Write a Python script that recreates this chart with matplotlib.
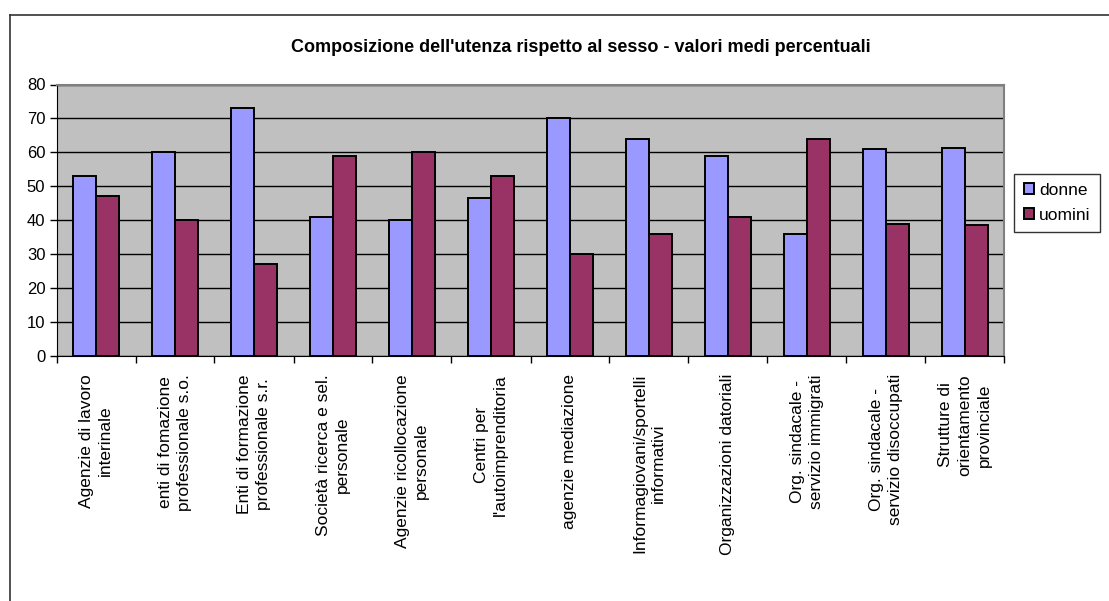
import matplotlib.pyplot as plt
import numpy as np

plt.rcParams['font.family'] = ['Liberation Sans', 'DejaVu Sans']

# data
categories = [
    "Agenzie di lavoro\ninterinale",
    "enti di fomazione\nprofessionale s.o.",
    "Enti di formazione\nprofessionale s.r.",
    "Società ricerca e sel.\npersonale",
    "Agenzie ricollocazione\npersonale",
    "Centri per\nl'autoimprenditoria",
    "agenzie mediazione",
    "Informagiovani/sportelli\ninformativi",
    "Organizzazioni datoriali",
    "Org. sindacale -\nservizio immigrati",
    "Org. sindacale -\nservizio disoccupati",
    "Strutture di\norientamento\nprovinciale",
]
donne = [53, 60, 73, 41, 40, 46.5, 70, 64, 59, 36, 61, 61.3]
uomini = [47, 40, 27, 59, 60, 53, 30, 36, 41, 64, 39, 38.7]
yticks = [0, 10, 20, 30, 40, 50, 60, 70, 80]

fig = plt.figure(figsize=(11.09, 6.01), dpi=100)

# chart-area border (only top and left visible in the original)
fig.add_artist(plt.Line2D([9.5 / 1109, 9.5 / 1109], [0, 1 - 14.5 / 601],
                          color='#333333', lw=1.2, transform=fig.transFigure))
fig.add_artist(plt.Line2D([9.5 / 1109, 1], [1 - 14.5 / 601, 1 - 14.5 / 601],
                          color='#333333', lw=1.2, transform=fig.transFigure))

ax = fig.add_axes([56.5 / 1109, 245 / 601, 948 / 1109, 271.5 / 601])
ax.set_facecolor('#C0C0C0')

x = np.arange(len(categories))
w = 1 / 3.5
ax.bar(x - w / 2, donne, w, color='#9999FF', edgecolor='black', linewidth=1.4,
       label='donne', zorder=3)
ax.bar(x + w / 2, uomini, w, color='#993366', edgecolor='black', linewidth=1.4,
       label='uomini', zorder=3)

ax.set_xlim(-0.5, len(categories) - 0.5)
ax.set_ylim(0, 80)
ax.set_yticks(yticks)
ax.tick_params(axis='y', labelsize=12, length=5, width=1, pad=3)
ax.yaxis.grid(True, color='black', lw=1, zorder=1)
ax.set_axisbelow(True)

# boundaries as major ticks, labels on minor ticks at the centres
ax.set_xticks(np.arange(len(categories) + 1) - 0.5)
ax.set_xticklabels([])
ax.tick_params(axis='x', which='major', length=5, width=1)
ax.set_xticks(x, minor=True)
ax.set_xticklabels(categories, minor=True, rotation=90, fontsize=12.5,
                   multialignment='center', linespacing=1.35)
ax.tick_params(axis='x', which='minor', length=0, pad=13)

for side in ['top', 'right']:
    ax.spines[side].set_color('#808080')
    ax.spines[side].set_linewidth(1.5)
ax.spines['left'].set_color('black')
ax.spines['bottom'].set_color('black')

fig.text(0.524, 1 - 47 / 601, "Composizione dell'utenza rispetto al sesso - valori medi percentuali",
         ha='center', va='center', fontsize=13, fontweight='bold')

leg = ax.legend(loc='upper left', bbox_to_anchor=((1014 - 56.5) / 948, 1 - (173 - 84) / 271.5),
                frameon=True, fancybox=False, fontsize=12.5, handlelength=0.6,
                handleheight=0.6, handletextpad=0.3, borderpad=0.55,
                labelspacing=0.55, borderaxespad=0)
leg.get_frame().set_edgecolor('black')
leg.get_frame().set_linewidth(1)

fig.savefig('out.png', dpi=100)
